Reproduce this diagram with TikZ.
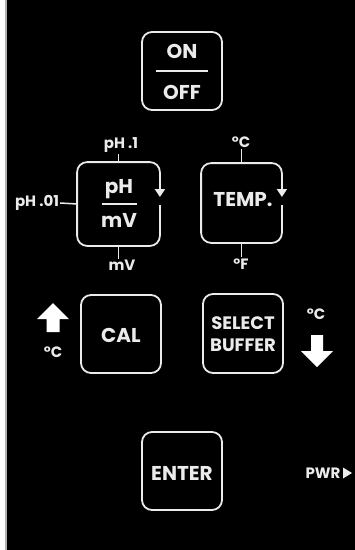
\documentclass[tikz,border=0pt]{standalone}
\usepackage{fontspec}
\setmainfont{Poppins}
\usepackage{xcolor}
\usepackage{tikz}
\usetikzlibrary{arrows.meta}
\definecolor{panel}{gray}{0.92}

\begin{document}
\begin{tikzpicture}[x=1pt, y=-1pt,
        key/.style={draw=panel, line width=1.8pt, rounded corners=10pt,
            minimum width=80pt, minimum height=78pt, inner sep=0pt},
        keytext/.style={text=panel, font=\bfseries\fontsize{20}{20}\selectfont, inner sep=0pt},
        smalltext/.style={text=panel, font=\bfseries\fontsize{15}{15}\selectfont, inner sep=1pt},
        tick/.style={draw=panel, line width=1.5pt}]
        \useasboundingbox (0, 0) rectangle (355, 550);
        \fill[black] (0, 0) rectangle (355, 550);
        \fill[white] (0, 0) rectangle (5, 550);
        \fill[gray!60] (5, 0) rectangle (7, 550);

        \node[key] (onoff) at (182, 71) {};
        \node[keytext] (on) at (182, 51) {ON};
        \node[keytext] (off) at (182, 92) {OFF};
        \draw[tick] ([xshift=-26pt]onoff.center) -- ([xshift=26pt]onoff.center);

        \node[key, draw=none, minimum width=81pt, minimum height=82pt] (ph) at (118.5, 204) {};
        \draw[draw=panel, line width=1.8pt, rounded corners=10pt, -{Triangle[length=8pt, width=10pt]}]
            ([yshift=-1pt]ph.east) -- (ph.south east) -- (ph.south west)
            -- (ph.north west) -- (ph.north east) -- ([yshift=7pt]ph.east);
        \node[keytext] (phup) at (119, 189) {pH};
        \node[keytext] (phdown) at (119, 220) {mV};
        \draw[tick] ([xshift=-17pt]ph.center) -- ([xshift=18pt]ph.center);
        \node[smalltext] (phhi) at (121, 145) {pH .1};
        \node[smalltext] (phlo) at (37, 203) {pH .01};
        \node[smalltext] (mv) at (122, 265) {mV};
        \draw[tick] (ph.north) -- (phhi.south -| ph.north);
        \draw[tick] (ph.west) -- (phlo.east);
        \draw[tick] (ph.south) -- (mv.north -| ph.south);

        \node[key, draw=none, minimum width=79pt] (temp) at (241.5, 203) {};
        \draw[draw=panel, line width=1.8pt, rounded corners=10pt, -{Triangle[length=8pt, width=10pt]}]
            ([yshift=-2pt]temp.east) -- (temp.south east) -- (temp.south west)
            -- (temp.north west) -- (temp.north east) -- ([yshift=6pt]temp.east);
        \node[keytext] (templabel) at (243, 200) {TEMP.};
        \node[smalltext] (degc) at (241, 142) {°C};
        \node[smalltext] (degf) at (241, 264) {°F};
        \draw[tick] (temp.north) -- (degc.south -| temp.north);
        \draw[tick] (temp.south) -- (degf.north -| temp.south);

        \node[key] (cal) at (121, 334) {};
        \node[keytext] (callabel) at (121, 335) {CAL};
        \fill[white] (53, 303) -- (69, 319) -- (59.5, 319) -- (59.5, 332)
            -- (46.5, 332) -- (46.5, 319) -- (37, 319) -- cycle;
        \node[smalltext] (calc) at (53, 352) {°C};

        \node[key, minimum height=79pt] (buffer) at (243, 333.5) {};
        \node[keytext, align=center, font=\bfseries\fontsize{18}{22}\selectfont] (bufferlabel) at (243, 334) {SELECT\\BUFFER};
        \node[smalltext] (bufc) at (316, 314) {°C};
        \fill[white] (317, 367) -- (333, 351) -- (323, 351) -- (323, 335)
            -- (311, 335) -- (311, 351) -- (301, 351) -- cycle;

        \node[key] (enter) at (182, 471) {};
        \node[keytext] (enterlabel) at (182, 473) {ENTER};
        \node[smalltext] (pwr) at (323, 473) {PWR};
        \fill[panel] (343, 467.5) -- (352, 473) -- (343, 478.5) -- cycle;
    \end{tikzpicture}
\end{document}
